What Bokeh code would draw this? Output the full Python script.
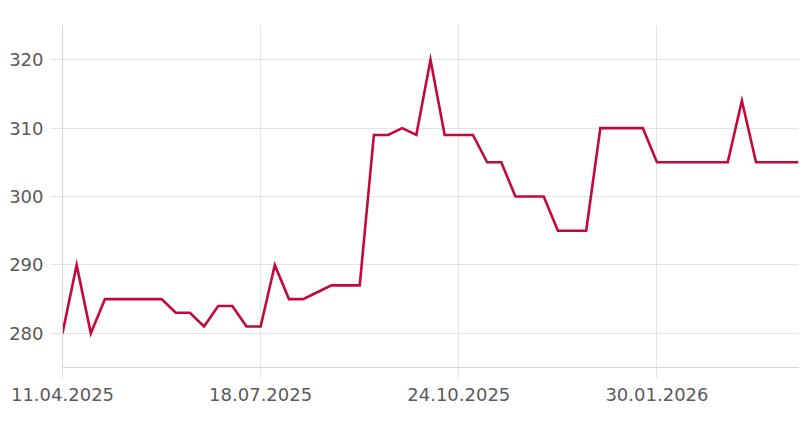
from datetime import datetime, timedelta
from bokeh.plotting import figure
from bokeh.models import FixedTicker, Range1d, CustomJSTickFormatter
from bokeh.embed import file_html
from bokeh.resources import INLINE

start_date = "2025-04-11"
n_weeks = 53
prices = [280, 290, 280, 285, 285, 285, 285, 285, 283, 283,
          281, 284, 284, 281, 281, 290, 285, 285, 286, 287,
          287, 287, 309, 309, 310, 309, 320, 309, 309, 309,
          305, 305, 300, 300, 300, 295, 295, 295, 310, 310,
          310, 310, 305, 305, 305, 305, 305, 305, 314, 305,
          305, 305, 305]
x_tick_labels = ["11.04.2025", "18.07.2025", "24.10.2025", "30.01.2026"]
y_ticks = [280, 290, 300, 310, 320]

d0 = datetime.strptime(start_date, "%Y-%m-%d")
dates = [d0 + timedelta(weeks=i) for i in range(n_weeks)]
tick_dates = [datetime.strptime(s, "%d.%m.%Y") for s in x_tick_labels]
to_ms = lambda d: (d - datetime(1970, 1, 1)).total_seconds() * 1000.0
xs = [to_ms(d) for d in dates]
tick_ms = [to_ms(d) for d in tick_dates]

p = figure(width=803, height=413, x_axis_type="datetime",
           output_backend="svg", toolbar_location=None,
           min_border_left=62, min_border_right=5,
           min_border_top=25, min_border_bottom=46)
p.x_range = Range1d(xs[0], xs[-1])
p.y_range = Range1d(275, 325)

p.line(xs, prices, line_color="#c5083a", line_width=2.6, line_join="miter")

p.xaxis.ticker = FixedTicker(ticks=tick_ms)
labels_map = {str(int(m)): s for m, s in zip(tick_ms, x_tick_labels)}
p.xaxis.formatter = CustomJSTickFormatter(args=dict(m=labels_map),
    code="return m[String(Math.round(tick))] || '';")
p.yaxis.ticker = FixedTicker(ticks=y_ticks)

grid_c = "#e3e3e3"
p.xgrid.grid_line_color = grid_c
p.ygrid.grid_line_color = grid_c
p.xgrid.ticker = FixedTicker(ticks=tick_ms)
p.ygrid.ticker = FixedTicker(ticks=y_ticks)
p.outline_line_color = None

for ax in (p.xaxis, p.yaxis):
    ax.axis_line_color = "#d4d4d4"
    ax.major_tick_line_color = grid_c
    ax.minor_tick_line_color = None
    ax.major_tick_in = 0
    ax.major_label_text_font = "DejaVu Sans"
    ax.major_label_text_font_size = "18px"
    ax.major_label_text_color = "#5a5a5a"
p.xaxis.major_tick_out = 11
p.yaxis.major_tick_out = 12
p.xaxis.major_label_standoff = 9
p.yaxis.major_label_standoff = 7

open("out.html", "w").write(file_html(p, INLINE))
